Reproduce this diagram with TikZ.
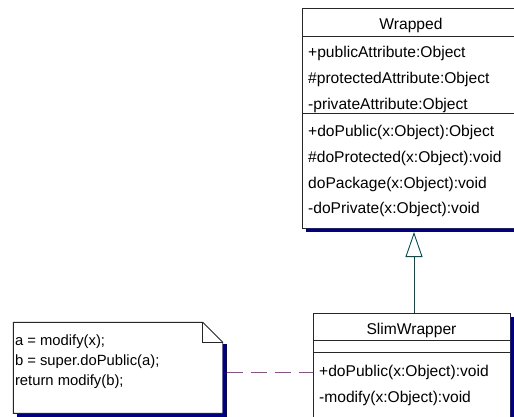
\documentclass[tikz,border=0pt]{standalone}
\usepackage{fontspec}
\setmainfont{Liberation Sans}
\usetikzlibrary{shapes,arrows.meta,positioning,shadows}

\definecolor{shadownavy}{RGB}{0,0,128}
\definecolor{inheritteal}{RGB}{0,80,80}
\definecolor{notepurple}{RGB}{160,64,160}

\begin{document}
\begin{tikzpicture}[x=1pt, y=-1pt,
    compartment/.style={rectangle, draw=black!85, line width=0.9pt, fill=white, outer sep=0pt, inner sep=0pt,
        drop shadow={shadow xshift=4pt, shadow yshift=-4pt, fill=shadownavy, opacity=1}},
    classtitle/.style={compartment, font=\fontsize{15.6}{18}\selectfont, text height=17pt, text depth=2pt},
    member/.style={rectangle, inner sep=0pt, text width=200pt, align=left, text height=11pt, text depth=4pt, font=\fontsize{15.6}{18}\selectfont},
    notetext/.style={rectangle, inner sep=0pt, align=left, font=\fontsize{14.8}{20}\selectfont},
    noteline/.style={draw=black!85, line width=0.9pt, fill=white, line join=miter},
    inherit/.style={-{Triangle[open, length=25pt, width=17pt]}, draw=inheritteal, line width=0.9pt},
    notelink/.style={draw=notepurple, line width=0.9pt, dash pattern=on 16pt off 8pt}]

    \useasboundingbox[fill=white] (0,0) rectangle (514,416);
    \clip (0,0) rectangle (514,416);

    % base class
    \node[classtitle, minimum width=218pt, minimum height=28pt] (wtitle) at (411,22) {Wrapped};
    \node[compartment, minimum width=218pt, minimum height=77pt, below=0pt of wtitle] (wattr) {};
    \node[compartment, minimum width=218pt, minimum height=115pt, below=0pt of wattr] (wops) {};

    \node[member, below right=10.5pt and 6pt of wattr.north west] (pubattr) {+publicAttribute:Object};
    \node[member, below=10.5pt of pubattr] (protattr) {\#protectedAttribute:Object};
    \node[member, below=10.5pt of protattr] (privattr) {-privateAttribute:Object};

    \node[member, below right=12pt and 6pt of wops.north west] (pubop) {+doPublic(x:Object):Object};
    \node[member, below=10.5pt of pubop] (protop) {\#doProtected(x:Object):void};
    \node[member, below=10.5pt of protop] (pkgop) {doPackage(x:Object):void};
    \node[member, below=10.5pt of pkgop] (privop) {-doPrivate(x:Object):void};

    % subclass
    \node[classtitle, minimum width=197pt, minimum height=27pt] (slimtitle) at (411.5,326.5) {SlimWrapper};
    \node[compartment, minimum width=197pt, minimum height=12pt, below=0pt of slimtitle] (slimattr) {};
    \node[compartment, minimum width=197pt, minimum height=66pt, below=0pt of slimattr] (slimops) {};

    \node[member, below right=13pt and 6pt of slimops.north west] (slimpub) {+doPublic(x:Object):void};
    \node[member, below=10.5pt of slimpub] (slimmod) {-modify(x:Object):void};

    % note with folded corner
    \node[minimum width=209.4pt, minimum height=91pt, inner sep=0pt, outer sep=0pt] (note) at (118,367.8) {};
    \fill[shadownavy] ([yshift=-22pt]note.north east) rectangle ([xshift=4pt, yshift=-4pt]note.south east);
    \fill[shadownavy] ([xshift=4pt]note.south west) rectangle ([xshift=4pt, yshift=-4pt]note.south east);
    \draw[noteline] (note.north west) -- ([xshift=-20pt]note.north east) -- ([yshift=-20pt]note.north east)
        -- (note.south east) -- (note.south west) -- cycle;
    \coordinate (fold) at ([xshift=-20pt]note.north east);
    \coordinate (foldend) at ([yshift=-20pt]note.north east);
    \draw[noteline, fill=none] (fold) |- (foldend);
    \node[notetext, below right=12pt and 1.5pt of note.north west] (notecode) {a = modify(x);\\b = super.doPublic(a);\\return modify(b);};

    % connectors
    \coordinate (wbase) at ([yshift=-4pt]wops.south);
    \coordinate (inhfoot) at ([xshift=2.5pt]slimtitle.north);
    \draw[inherit] (inhfoot) -- (inhfoot |- wbase);

    \coordinate (notetip) at ([xshift=4pt]note.east);
    \draw[notelink] (notetip |- slimpub.west) -- (slimops.west |- slimpub.west);
\end{tikzpicture}
\end{document}
